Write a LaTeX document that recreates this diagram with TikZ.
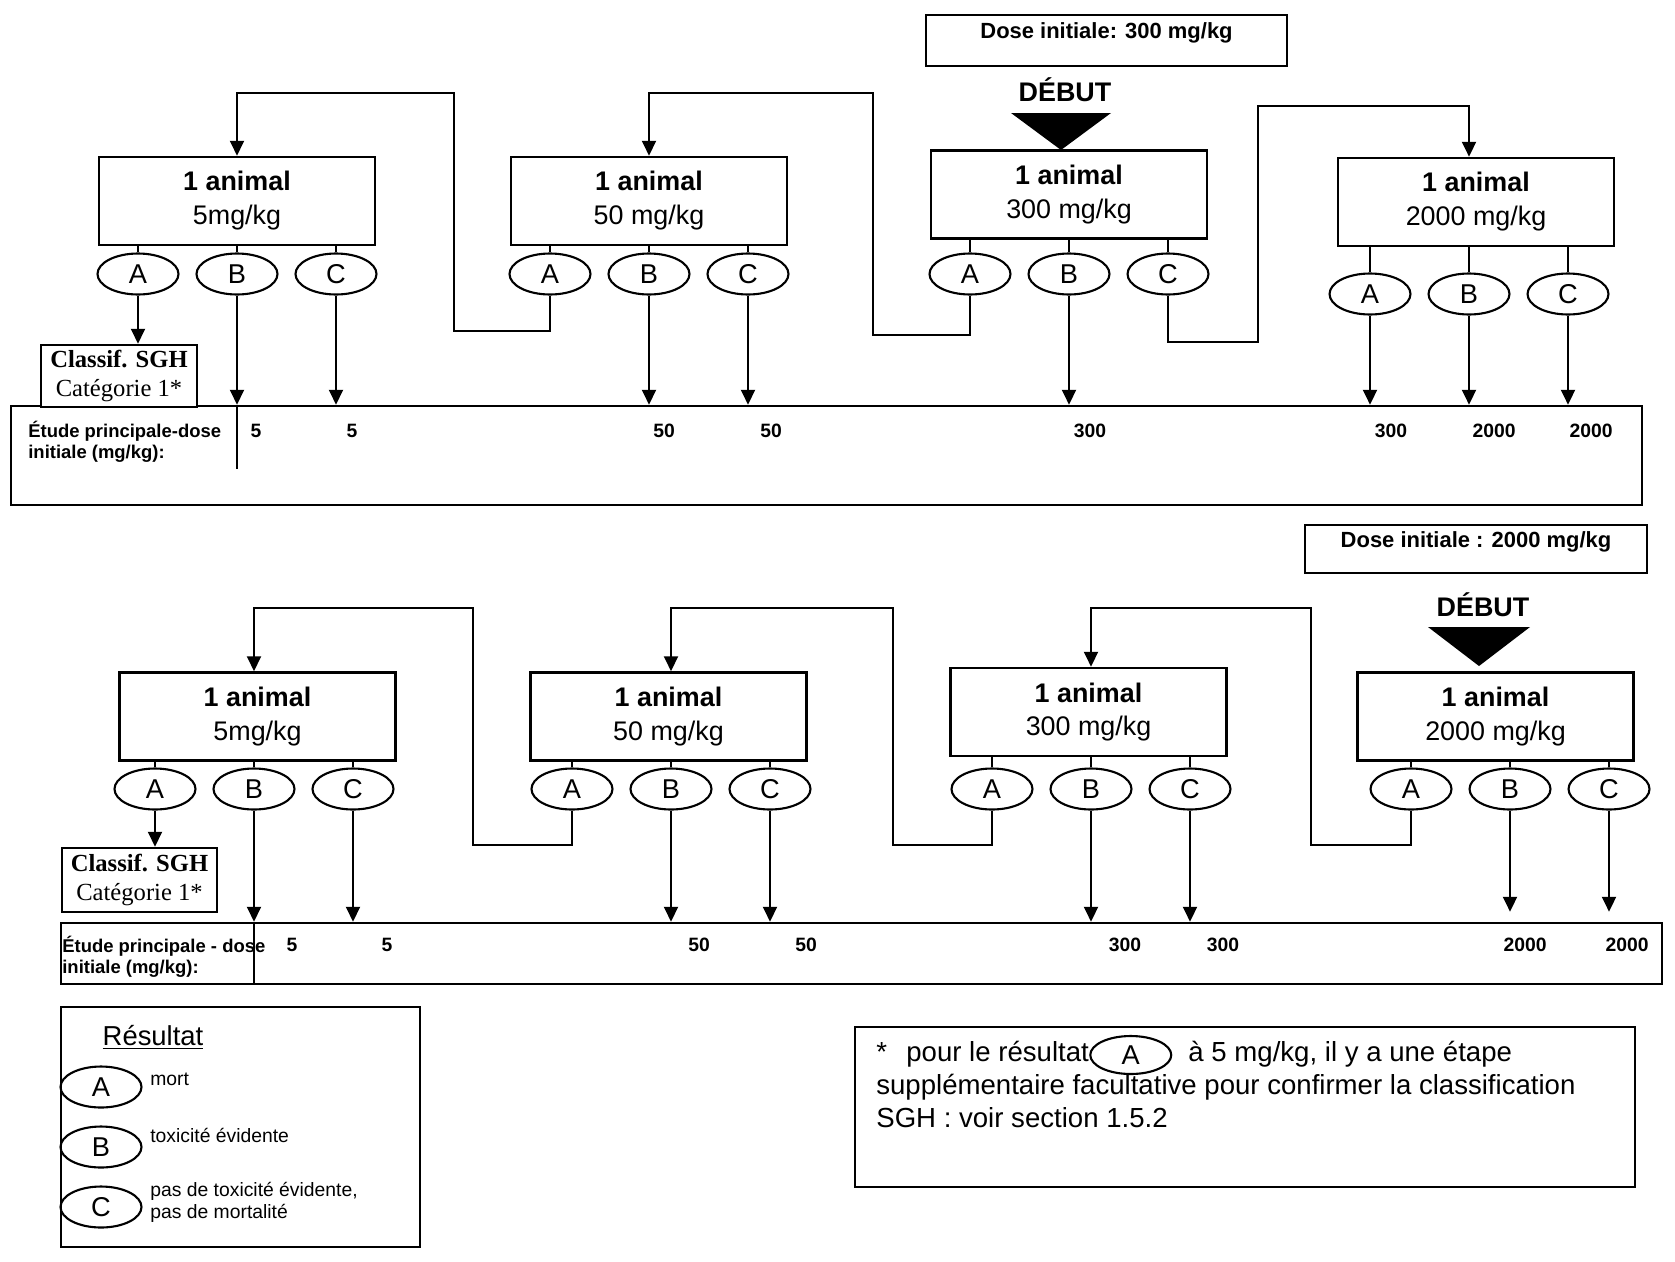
\documentclass[tikz,border=0pt]{standalone}
\usepackage{fontspec}
\setmainfont{Liberation Sans}
\newfontfamily\sghfont{Liberation Serif}
\usepackage{tikz}
\usetikzlibrary{arrows.meta, calc, shapes.geometric, positioning}

\tikzset{
    animal/.style={draw, line width=1.5pt, minimum width=5.52cm, minimum height=1.76cm,
        align=center, inner sep=0pt, font=\fontsize{15.3}{19.3}\selectfont},
    res/.style={draw, ellipse, line width=1.2pt, minimum width=1.62cm, minimum height=0.82cm,
        inner sep=0pt, font=\fontsize{15.5}{18}\selectfont},
    sgh/.style={draw, fill=white, line width=1.5pt, minimum width=3.12cm, minimum height=1.24cm,
        align=center, inner sep=0pt, font=\sghfont\fontsize{14}{16.3}\selectfont},
    dosebox/.style={draw, line width=1.4pt, inner sep=0pt, text depth=11pt,
        font=\bfseries\fontsize{12.5}{14}\selectfont},
    debut/.style={inner sep=0pt, font=\bfseries\fontsize{15.3}{18}\selectfont},
    bar/.style={draw, line width=1.5pt, inner sep=0pt},
    barlab/.style={anchor=west, align=left, inner sep=0pt, font=\bfseries\fontsize{10.5}{12}\selectfont},
    dosenum/.style={inner sep=0pt, font=\bfseries\fontsize{11}{13}\selectfont},
    leglab/.style={anchor=west, align=left, inner sep=0pt, font=\fontsize{11}{12.5}\selectfont},
    notetxt/.style={inner sep=0pt, text height=11pt, text depth=3.5pt, font=\fontsize{15.7}{19.3}\selectfont},
    link/.style={line width=1.1pt},
}

\begin{document}
\begin{tikzpicture}[>={Triangle[length=8.5pt, width=8pt]}, x=0.02cm, y=-0.02cm]

    \useasboundingbox (0,0) rectangle (1675,1261);

    % =================================================================
    % 1. DOSE INITIALE 300 mg/kg (HAUT)
    % =================================================================
    \node[dosebox, minimum width=7.22cm, minimum height=1.02cm] (dose1) at (1106.5,40.5) {Dose initiale: 300 mg/kg};
    \node[debut] (debut1) at (1065,90) {DÉBUT};
    \coordinate (apex1) at (1061,150);
    \fill (apex1) -- ++(-50,-37) -- ++(100,0) -- cycle;

    \node[animal] (t1) at (237,201)    {\textbf{1 animal}\\5mg/kg};
    \node[animal] (t2) at (649,201)    {\textbf{1 animal}\\50 mg/kg};
    \node[animal] (t3) at (1069,194.5) {\textbf{1 animal}\\300 mg/kg};
    \node[animal] (t4) at (1476,202)   {\textbf{1 animal}\\2000 mg/kg};

    % Résultats A, B, C sous chaque animal
    \foreach \b/\cx/\ey in {t1/237/274, t2/649/274, t3/1069/274, t4/1469/294}
        \foreach \r/\dx in {A/-99, B/0, C/99} {
            \node[res] (\b\r) at (\cx+\dx,\ey) {\r};
            \draw[link] (\b\r.north) -- (\b\r.north |- \b.south);
        }

    % Barre de l'étude principale
    \node[bar, minimum width=32.62cm, minimum height=1.98cm] (tbar) at (826.5,455.5) {};
    \draw[link] (tbar.north -| t1B) -- ++(0,64);
    \node[sgh] (tsgh) at (119,376) {\textbf{Classif. SGH}\\Catégorie 1*};
    \node[barlab] (tlab) at (28,442) {Étude principale-dose\\initiale (mg/kg):};
    \foreach \x/\v [count=\i] in {256/5, 352/5, 664/50, 771/50, 1090/300, 1391/300, 1494/2000, 1591/2000}
        \node[dosenum] (tnum\i) at (\x,431) {\v};

    % Flèches vers la barre
    \draw[link, ->] (t1A.south) -- (tsgh.north -| t1A);
    \foreach \e in {t1B, t1C, t2B, t2C, t3B, t4A, t4B, t4C}
        \draw[link, ->] (\e.south) -- (\e.south |- tbar.north);

    % Boucles vers la dose suivante
    \coordinate (h1) at (454,93);
    \coordinate (h2) at (873,93);
    \coordinate (h3) at (1258,106);
    \draw[link, ->] (t2A.south) -- ++(0,35) -| (h1) -| (t1.north -| t1B);
    \draw[link, ->] (t3A.south) -- ++(0,39) -| (h2) -| (t2.north -| t2B);
    \draw[link, ->] (t3C.south) -- ++(0,46) -| (h3) -| (t4.north -| t4B);

    % =================================================================
    % 2. DOSE INITIALE 2000 mg/kg (BAS)
    % =================================================================
    \node[dosebox, minimum width=6.84cm, minimum height=0.96cm] (dose2) at (1476,549) {Dose initiale : 2000 mg/kg};
    \node[debut] (debut2) at (1483,605) {DÉBUT};
    \coordinate (apex2) at (1479,666);
    \fill (apex2) -- ++(-51,-39) -- ++(102,0) -- cycle;

    \node[animal] (b1) at (257.5,716.5)  {\textbf{1 animal}\\5mg/kg};
    \node[animal] (b2) at (668.5,716.5)  {\textbf{1 animal}\\50 mg/kg};
    \node[animal] (b3) at (1088.5,712)   {\textbf{1 animal}\\300 mg/kg};
    \node[animal] (b4) at (1495.5,716.5) {\textbf{1 animal}\\2000 mg/kg};

    \foreach \b/\cx in {b1/254, b2/671, b3/1091, b4/1510}
        \foreach \r/\dx in {A/-99, B/0, C/99} {
            \node[res] (\b\r) at (\cx+\dx,789) {\r};
            \draw[link] (\b\r.north) -- (\b\r.north |- \b.south);
        }

    \node[bar, minimum width=32.02cm, minimum height=1.22cm] (bbar) at (861.5,953.5) {};
    \draw[link] (bbar.north -| b1B) -- (bbar.south -| b1B);
    \node[sgh, minimum width=3.1cm, minimum height=1.28cm] (bsgh) at (139.5,880) {\textbf{Classif. SGH}\\Catégorie 1*};
    \node[barlab] (blab) at (62,957) {Étude principale - dose\\initiale (mg/kg):};
    \foreach \x/\v [count=\i] in {292/5, 387/5, 699/50, 806/50, 1125/300, 1223/300, 1525/2000, 1627/2000}
        \node[dosenum] (bnum\i) at (\x,945) {\v};

    \draw[link, ->] (b1A.south) -- (bsgh.north -| b1A);
    \foreach \e in {b1B, b1C, b2B, b2C, b3B, b3C}
        \draw[link, ->] (\e.south) -- (\e.south |- bbar.north);
    \draw[link, ->] (b4B.south) -- ($(b4B |- bbar.north)+(0,-10)$);
    \draw[link, ->] (b4C.south) -- ($(b4C |- bbar.north)+(0,-10)$);

    \coordinate (h4) at (473,608);
    \coordinate (h5) at (893,608);
    \coordinate (h6) at (1311,608);
    \draw[link, ->] (b2A.south) -- ++(0,34) -| (h4) -| (b1.north -| b1B);
    \draw[link, ->] (b3A.south) -- ++(0,34) -| (h5) -| (b2.north -| b2B);
    \draw[link, ->] (b4A.south) -- ++(0,34) -| (h6) -| (b3.north -| b3B);

    % =================================================================
    % 3. LÉGENDE ET NOTE
    % =================================================================
    \node[draw, line width=1.5pt, minimum width=7.18cm, minimum height=4.8cm] (legend) at (240.5,1127) {};
    \node[inner sep=0pt, font=\fontsize{15.6}{18}\selectfont] (legtitle) at (153,1037) {\underline{Résultat}};
    \node[res] (legA) at (101,1087) {A};
    \node[res] (legB) at (101,1147) {B};
    \node[res] (legC) at (101,1207) {C};
    \node[leglab] (legAt) at (150,1079) {mort};
    \node[leglab] (legBt) at (150,1135) {toxicité évidente};
    \node[leglab] (legCt) at (150,1202) {pas de toxicité évidente,\\ pas de mortalité};

    \node[draw, line width=1.5pt, minimum width=15.6cm, minimum height=3.2cm] (note) at (1245,1107) {};
    \node[notetxt, anchor=west] (noteL1) at (876,1055) {*\hspace{0.7em}pour le résultat};
    \node[res, minimum height=0.76cm, right=0pt of noteL1] (noteA) {A};
    \node[notetxt, right=9pt of noteA] (noteL1b) {à 5 mg/kg, il y a une étape};
    \node[notetxt, anchor=west] (noteL2) at (876,1088) {supplémentaire facultative pour confirmer la classification};
    \node[notetxt, anchor=west] (noteL3) at (876,1121) {SGH : voir section 1.5.2};

\end{tikzpicture}
\end{document}
